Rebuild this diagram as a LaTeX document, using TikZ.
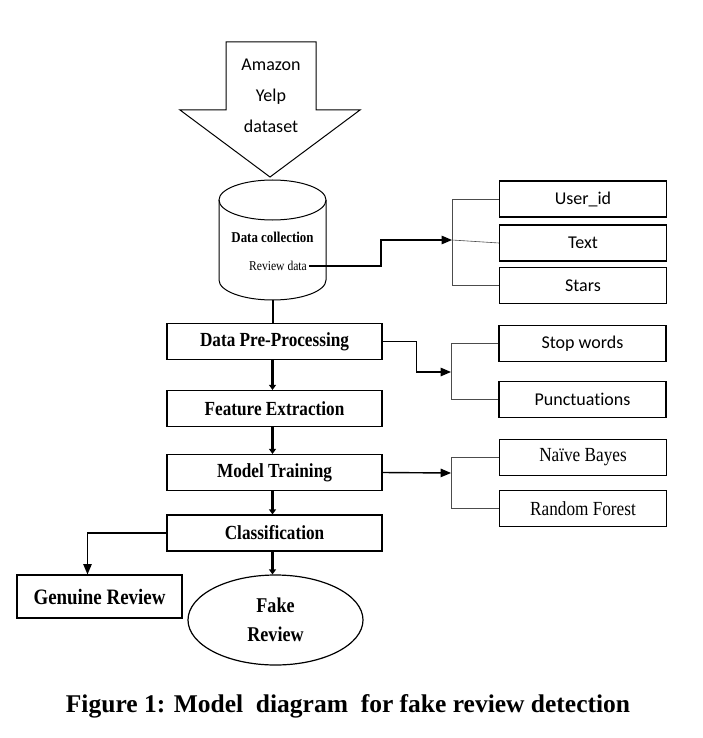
\documentclass[tikz,border=0pt]{standalone}
\usepackage{fontspec}
\setmainfont{Liberation Serif}
\newfontfamily\boxserif[FakeStretch=0.86]{Liberation Serif}
\newfontfamily\calibri[Ligatures=NoCommon]{Carlito}
\usetikzlibrary{arrows,arrows.meta,shapes.geometric}

\begin{document}
\begin{tikzpicture}[x=1pt,y=-1pt,>=triangle 45,semithick,
  stepbox/.style={draw,line width=1.2pt,minimum width=215pt,minimum height=36pt,inner sep=0pt,font=\boxserif\bfseries\fontsize{20}{22}\selectfont},
  itembox/.style={draw,line width=1.2pt,minimum width=167pt,minimum height=36pt,inner sep=0pt,font=\calibri\fontsize{18}{20}\selectfont},
  algobox/.style={itembox,font=\boxserif\fontsize{20}{22}\selectfont},
  mainline/.style={line width=2.5pt,-{Triangle[length=5pt,width=7pt]}},
  sideline/.style={line width=1.4pt},
  brace/.style={line width=0.6pt,draw=black!70}]
  \useasboundingbox (0,0) rectangle (702,738);

  % source arrow and database
  \draw[line width=1pt] (226,42) -- (316,42) -- (316,110) -- (360,110) -- (270,177) -- (180,110) -- (226,110) -- cycle;
  \node[align=center,font=\calibri\fontsize{18}{31}\selectfont] (src) at (271,96) {Amazon\\Yelp\\dataset};
  \draw[line width=1pt] (219,200) -- (219,280) arc[start angle=180,end angle=0,x radius=53.5,y radius=20] -- (326,200);
  \draw[line width=1pt] (272.5,200) ellipse[x radius=53.5,y radius=20];
  \coordinate (dbbot) at (273,300);
  \node[font=\boxserif\bfseries\fontsize{15}{17}\selectfont] (dbname) at (272.5,237) {Data collection};
  \node[font=\boxserif\fontsize{13.5}{15}\selectfont,inner sep=2pt] (rev) at (278,266) {Review data};

  % main flow
  \node[stepbox] (pre) at (274.5,341.5) {Data Pre-Processing};
  \node[stepbox] (feat) at (274.5,408.5) {Feature Extraction};
  \node[stepbox] (train) at (274.5,472.5) {Model Training};
  \node[stepbox] (cls) at (274.5,533) {Classification};
  \node[stepbox,minimum width=165pt,minimum height=43pt,font=\boxserif\bfseries\fontsize{22}{24}\selectfont] (genuine) at (99.5,596.5) {Genuine Review};
  \node[draw,ellipse,line width=1.2pt,minimum width=175pt,minimum height=90pt,inner sep=0pt,align=center,
        font=\boxserif\bfseries\fontsize{21}{29}\selectfont] (fake) at (275.5,620) {Fake\\Review};

  % side boxes
  \node[itembox] (userid) at (583,199) {User\_id};
  \node[itembox] (text) at (583,243) {Text};
  \node[itembox] (stars) at (583,285.5) {Stars};
  \node[itembox] (stop) at (582.5,343.5) {Stop words};
  \node[itembox] (punct) at (582.5,399.5) {Punctuations};
  \node[algobox] (naive) at (583,457.5) {Naïve Bayes};
  \node[algobox] (forest) at (583,508.5) {Random Forest};

  \coordinate (b1) at (452,240);
  \coordinate (b2) at (451,372);
  \coordinate (b3) at (451,473);

  % brackets
  \draw[brace] (userid.west) -- ++(-47,0) |- (stars.west);
  \draw[brace] (text.west) -- (b1);
  \draw[brace] (stop.west) -- ++(-47,0) |- (punct.west);
  \draw[brace] (naive.west) -- ++(-48,0) |- (forest.west);

  % connectors
  \draw[line width=2.5pt] (dbbot) -- (dbbot |- pre.north);
  \draw[mainline] ([xshift=-2pt]pre.south) -- ([xshift=-2pt]feat.north);
  \draw[mainline] ([xshift=-2pt]feat.south) -- ([xshift=-2pt]train.north);
  \draw[mainline] ([xshift=-2pt]train.south) -- ([xshift=-2pt]cls.north);
  \draw[mainline] ([xshift=-2pt]cls.south) -- (fake.north -| 272.5,0);
  \draw[sideline,->] (rev.east) -- ++(72,0) |- (b1);
  \draw[sideline,->] (pre.east) -- ++(34,0) |- (b2);
  \draw[sideline,->] (train.east) -- (b3);
  \draw[sideline,->] (cls.west) -| ([xshift=-12pt]genuine.north);

  \node[font=\bfseries\fontsize{25.5}{28}\selectfont] (caption) at (348,706) {Figure 1: Model\ \ diagram\ \ for fake review detection};
\end{tikzpicture}
\end{document}
